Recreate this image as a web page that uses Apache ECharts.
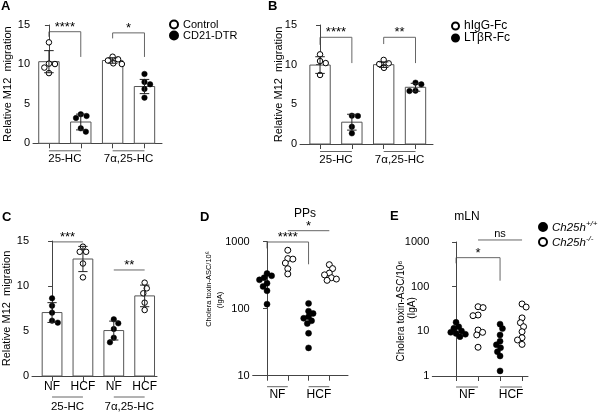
<!DOCTYPE html>
<html><head><meta charset="utf-8">
<script src="https://cdn.jsdelivr.net/npm/echarts@6/dist/echarts.min.js"></script>
<style>html,body{margin:0;padding:0;background:#fff}#c{width:600px;height:413px}</style>
</head><body><div id="c"></div>
<script>
// ---------------- data ----------------
const groupsAB = ['25-HC', '7α,25-HC'];
const catsC = ['NF', 'HCF', 'NF', 'HCF'];
const groupsDE = ['NF', 'HCF'];

// Panel A: Control (open) vs CD21-DTR (filled)
const aControl25 = [12.8, 10.05, 10.1, 9.6, 8.9];
const aDTR25 = [3.46, 3.68, 3.21, 1.9, 1.48];
const aControl7 = [10.98, 10.5, 10.65, 10.14, 10.05];
const aDTR7 = [8.79, 7.48, 7.77, 6.89, 5.79];
const aMeans = [10.35, 2.7, 10.5, 7.2];
const aSD = [1.4, 1.0, 0.35, 0.9];

// Panel B: hIgG-Fc (open) vs LTβR-Fc (filled)
const bIgG25 = [11.3, 10.46, 10.2, 8.7];
const bLTbR25 = [3.53, 3.57, 2.18, 1.34];
const bIgG7 = [10.6, 9.6, 10.08, 10.17];
const bLTbR7 = [7.52, 7.73, 6.72, 6.68];
const bMeans = [9.95, 2.75, 10.0, 7.15];
const bSD = [1.05, 1.0, 0.35, 0.5];

// Panel C: NF (filled) vs HCF (open)
const cNF25 = [8.63, 7.81, 7.04, 5.93, 6.15];
const cHCF25 = [13.8, 14.37, 13.8, 12.5, 10.96];
const cNF7 = [6.3, 5.85, 5.22, 3.74, 4.26];
const cHCF7 = [10.37, 9.74, 9.19, 8.15, 7.33];
const cMeans = [7.05, 13.0, 5.05, 8.9];
const cSD = [1.1, 1.4, 1.05, 1.2];

// Panel D (PPs): Ch25h+/+ (filled) vs Ch25h-/- (open)
const dNFwt = [335, 310, 290, 270, 240, 215, 185, 117];
const dNFko = [745, 560, 550, 480, 395, 330];
const dHCFwt = [120, 92, 85, 76, 72, 66, 60, 43, 26];
const dHCFko = [454, 397, 340, 320, 290, 277, 265];

// Panel E (mLN)
const eNFwt = [15.9, 12.7, 11.7, 10.2, 9.5, 9.0, 8.6, 7.6];
const eNFko = [35.6, 34, 23.2, 22.4, 10.7, 9.5, 8.3, 4.4];
const eHCFwt = [14.5, 11.5, 8.3, 6.0, 5.0, 4.3, 3.5, 2.8, 1.3];
const eHCFko = [41, 35, 20, 15.6, 12.7, 9.8, 7.2, 6.4, 5.1];

// significance annotations (data units): [x1, x2, yTop, yLeftEnd, yRightEnd, label]
const sigA = [[0, 1, 14.15, 13.5, 10.95, '****'], [2, 3, 14.0, 13.3, 10.95, '*']];
const sigB = [[0, 1, 13.45, 12.5, 10.2, '****'], [2, 3, 13.45, 12.6, 10.2, '**']];
const sigC = [[0, 1, 14.9, 14.9, 14.9, '***'], [2, 3, 11.78, 11.78, 11.78, '**']];
const sigD = [[0, 2, 990, 794, 460, '****'], [1, 3, 1460, 1460, 1460, '*']];
const sigE = [[0, 2, 446, 333, 136, '*'], [1, 3, 1110, 1110, 1110, 'ns']];

// ---------------- layout ----------------
const FONT = 'Liberation Sans, Arial, Helvetica, sans-serif';
const grids = [
  {left: 33, top: 25, width: 129, height: 118.3},
  {left: 300, top: 25, width: 133, height: 119},
  {left: 30, top: 241, width: 127, height: 135},
  {left: 252.7, top: 241.7, width: 95.3, height: 134},
  {left: 432.3, top: 242, width: 95.7, height: 134}
];
const xRanges = [[-0.5, 3.55], [-0.63, 3.55], [-0.65, 3.4], [-0.69, 3.9], [-1.08, 3.27]];
const AX = '#444';

const chart = echarts.init(document.getElementById('c'), null, {renderer: 'canvas'});

function xAxisCfg(i) {
  const cfg = {
    type: 'value', gridIndex: i, min: xRanges[i][0], max: xRanges[i][1],
    splitLine: {show: false},
    axisLine: {show: true, onZero: false, lineStyle: {color: AX, width: 1}},
    axisTick: {show: true, customValues: [0, 1, 2, 3], length: 5, lineStyle: {color: AX}},
    axisLabel: {show: false}
  };
  if (i === 2) {
    cfg.axisLabel = {show: true, customValues: [0, 1, 2, 3], margin: 5, fontSize: 12, color: '#000', fontFamily: FONT,
      formatter: v => catsC[Math.round(v)]};
  }
  if (i >= 3) {
    cfg.axisLabel = {show: true, customValues: [0.5, 2.5], margin: 13, fontSize: 12, color: '#000', fontFamily: FONT,
      formatter: v => groupsDE[v < 1.5 ? 0 : 1]};
  }
  return cfg;
}
function yAxisCfg(i) {
  const base = {
    gridIndex: i, splitLine: {show: false},
    axisLine: {show: true, lineStyle: {color: AX, width: 1}},
    axisTick: {show: true, length: 4, lineStyle: {color: AX}},
    axisLabel: {fontSize: 11, color: '#000', margin: 3, fontFamily: FONT},
    nameLocation: 'middle', nameRotate: 90, nameMoveOverlap: false,
    nameTextStyle: {fontSize: 11, color: '#000', fontFamily: FONT}
  };
  if (i <= 2) {
    return Object.assign(base, {type: 'value', min: 0, max: 15, interval: 5,
      name: 'Relative M12  migration', nameGap: i === 1 ? 16 : 20});
  }
  const logLabel = {fontSize: 11, color: '#000', margin: 3, fontFamily: FONT, formatter: v => String(Math.round(v))};
  if (i === 3) {
    return Object.assign(base, {type: 'log', logBase: 10, min: 10, max: 1000, axisLabel: logLabel});
  }
  return Object.assign(base, {type: 'log', logBase: 10, min: 1, max: 1000, axisLabel: logLabel});
}

function barRender(params, api) {
  const x = api.value(0), v = api.value(1);
  const p0 = api.coord([x, 0]);
  const p1 = api.coord([x, v]);
  const w = api.size([1, 0])[0] * 0.64;
  return {type: 'rect', shape: {x: p1[0] - w / 2, y: p1[1], width: w, height: p0[1] - p1[1]},
    style: {fill: '#fff', stroke: '#555', lineWidth: 1}};
}
function errRender(params, api) {
  const x = api.value(0), m = api.value(1), s = api.value(2);
  const t = api.coord([x, m + s]), b = api.coord([x, m - s]);
  const cw = api.size([1, 0])[0] * 0.3;
  const st = {stroke: '#222', lineWidth: 1};
  return {type: 'group', children: [
    {type: 'line', shape: {x1: t[0], y1: t[1], x2: b[0], y2: b[1]}, style: st},
    {type: 'line', shape: {x1: t[0] - cw / 2, y1: t[1], x2: t[0] + cw / 2, y2: t[1]}, style: st},
    {type: 'line', shape: {x1: b[0] - cw / 2, y1: b[1], x2: b[0] + cw / 2, y2: b[1]}, style: st}
  ]};
}

const panels = [
  {open: 'Control', filled: 'CD21-DTR', openGroups: [[0, aControl25], [2, aControl7]], filledGroups: [[1, aDTR25], [3, aDTR7]], means: aMeans, sd: aSD, size: 5.5, spread: 1.1},
  {open: 'hIgG-Fc', filled: 'LTβR-Fc', openGroups: [[0, bIgG25], [2, bIgG7]], filledGroups: [[1, bLTbR25], [3, bLTbR7]], means: bMeans, sd: bSD, size: 5.5, spread: 1.1},
  {open: 'C-HCF', filled: 'C-NF', openGroups: [[1, cHCF25], [3, cHCF7]], filledGroups: [[0, cNF25], [2, cNF7]], means: cMeans, sd: cSD, size: 5.5, spread: 1.1},
  {open: 'Ch25h-/-', filled: 'Ch25h+/+', openGroups: [[1, dNFko], [3, dHCFko]], filledGroups: [[0, dNFwt], [2, dHCFwt]], size: 6, spread: 0.85},
  {open: 'Ch25h-/-', filled: 'Ch25h+/+', openGroups: [[1, eNFko], [3, eHCFko]], filledGroups: [[0, eNFwt], [2, eHCFwt]], size: 6, spread: 0.85}
];

const series = [];
panels.forEach((p, i) => {
  if (p.means) {
    series.push({type: 'custom', id: 'bar' + i, xAxisIndex: i, yAxisIndex: i, renderItem: barRender, silent: true, z: 1,
      data: p.means.map((m, k) => [k, m]), encode: {x: 0, y: 1}});
    series.push({type: 'custom', id: 'err' + i, xAxisIndex: i, yAxisIndex: i, renderItem: errRender, silent: true, z: 4,
      data: p.means.map((m, k) => [k, m, p.sd[k]]), encode: {x: 0, y: 1}});
  }
  series.push({type: 'scatter', id: 'open' + i, name: p.open, xAxisIndex: i, yAxisIndex: i, symbol: 'circle', symbolSize: p.size, z: 3,
    itemStyle: {color: '#fff', borderColor: '#000', borderWidth: 1, opacity: 1}, data: []});
  series.push({type: 'scatter', id: 'filled' + i, name: p.filled, xAxisIndex: i, yAxisIndex: i, symbol: 'circle', symbolSize: p.size, z: 3,
    itemStyle: {color: '#000', borderColor: '#000', borderWidth: 0.5, opacity: 1}, data: []});
});

const titleStyle = {fontSize: 13, fontWeight: 'bold', color: '#000', fontFamily: FONT};
const subStyle = {fontSize: 12, fontWeight: 'normal', color: '#000', fontFamily: FONT};
const legendText = {fontSize: 11, color: '#000', fontFamily: FONT};

chart.setOption({
  animation: false,
  backgroundColor: '#fff',
  title: [
    {text: 'A', left: 1, top: 0, padding: 0, textStyle: titleStyle},
    {text: 'B', left: 268, top: 0, padding: 0, textStyle: titleStyle},
    {text: 'C', left: 2, top: 211, padding: 0, textStyle: titleStyle},
    {text: 'D', left: 200, top: 211, padding: 0, textStyle: titleStyle},
    {text: 'E', left: 390, top: 210, padding: 0, textStyle: titleStyle},
    {text: 'PPs', left: 305, top: 208, padding: 0, textAlign: 'center', textStyle: subStyle},
    {text: 'mLN', left: 467, top: 211, padding: 0, textAlign: 'center', textStyle: subStyle}
  ],
  legend: [
    {data: ['Control', 'CD21-DTR'], left: 169, top: 19, orient: 'vertical', itemWidth: 8, itemHeight: 8, itemGap: 0, padding: 0,
      textStyle: Object.assign({lineHeight: 10}, legendText), selectedMode: false},
    {data: ['hIgG-Fc', 'LTβR-Fc'], left: 451, top: 20, orient: 'vertical', itemWidth: 7, itemHeight: 7, itemGap: 0, padding: 0,
      textStyle: Object.assign({lineHeight: 10}, legendText, {fontSize: 12}), selectedMode: false},
    {data: ['Ch25h+/+', 'Ch25h-/-'], left: 538, top: 220, orient: 'vertical', itemWidth: 8, itemHeight: 8, itemGap: 1, padding: 0,
      selectedMode: false,
      formatter: n => n === 'Ch25h+/+' ? '{i|Ch25h}{s|+/+}' : '{i|Ch25h}{s|-/-}',
      textStyle: {color: '#000', fontFamily: FONT, fontSize: 11, rich: {
        i: {fontStyle: 'italic', fontSize: 11.5, fontFamily: FONT, lineHeight: 14, verticalAlign: 'bottom'},
        s: {fontStyle: 'italic', fontSize: 8, fontFamily: FONT, lineHeight: 14, verticalAlign: 'top'}}}}
  ],
  grid: grids,
  xAxis: grids.map((g, i) => xAxisCfg(i)),
  yAxis: grids.map((g, i) => yAxisCfg(i)),
  series: series
});

// --------- second pass: beeswarm jitter + annotations ---------
function swarm(gi, xc, vals, diam) {
  const a = chart.convertToPixel({gridIndex: gi}, [xc, vals[0]]);
  const b = chart.convertToPixel({gridIndex: gi}, [xc + 1, vals[0]]);
  const ppu = b[0] - a[0];
  const ys = vals.map(v => chart.convertToPixel({gridIndex: gi}, [xc, v])[1]);
  const order = vals.map((v, k) => k).sort((p, q) => ys[p] - ys[q]);
  const placed = [];
  const out = new Array(vals.length);
  let flip = 1;
  order.forEach(k => {
    const y = ys[k];
    const cands = [0];
    placed.forEach(q => {
      const dy = y - q.y;
      if (Math.abs(dy) < diam) {
        const dx = Math.sqrt(diam * diam - dy * dy);
        cands.push(q.x + dx, q.x - dx);
      }
    });
    const ok = cands.filter(c => placed.every(q => (c - q.x) ** 2 + (y - q.y) ** 2 >= diam * diam - 0.01));
    ok.sort((p, q) => (Math.abs(p) - Math.abs(q)) || (q - p) * flip);
    const c = ok[0];
    if (Math.abs(c) > 0.01) flip = -flip;
    placed.push({x: c, y: y});
    out[k] = [xc + c / ppu, vals[k]];
  });
  return out;
}

const upd = [];
panels.forEach((p, i) => {
  const d = p.size * p.spread;
  let od = [], fd = [];
  p.openGroups.forEach(([xc, vals]) => { od = od.concat(swarm(i, xc, vals, d)); });
  p.filledGroups.forEach(([xc, vals]) => { fd = fd.concat(swarm(i, xc, vals, d)); });
  upd.push({id: 'open' + i, data: od});
  upd.push({id: 'filled' + i, data: fd});
});

const graphics = [];
const LINE = '#666';
function px(gi, x, y) { return chart.convertToPixel({gridIndex: gi}, [x, y]); }
function addSig(gi, list) {
  list.forEach(([x1, x2, yt, yl, yr, lab]) => {
    const pl = px(gi, x1, yl), pt1 = px(gi, x1, yt), pt2 = px(gi, x2, yt), pr = px(gi, x2, yr);
    graphics.push({type: 'polyline', silent: true, shape: {points: [pl, pt1, pt2, pr]},
      style: {stroke: LINE, lineWidth: 1, fill: null}});
    graphics.push({type: 'text', silent: true, x: (pt1[0] + pt2[0]) / 2, y: pt1[1] + (lab === 'ns' ? -1 : 2),
      style: {text: lab, fontSize: lab === 'ns' ? 11 : 13, fontFamily: FONT, fill: '#000',
        textAlign: 'center', textVerticalAlign: 'bottom'}});
  });
}
addSig(0, sigA); addSig(1, sigB); addSig(2, sigC); addSig(3, sigD); addSig(4, sigE);

function groupLabel(gi, x1, x2, label, lineOff, textOff, yVal) {
  const a = px(gi, x1, yVal), b = px(gi, x2, yVal);
  graphics.push({type: 'line', silent: true, shape: {x1: a[0], y1: a[1] + lineOff, x2: b[0], y2: b[1] + lineOff},
    style: {stroke: LINE, lineWidth: 1}});
  if (label) {
    graphics.push({type: 'text', silent: true, x: (a[0] + b[0]) / 2, y: a[1] + textOff,
      style: {text: label, fontSize: 11.5, fontFamily: FONT, fill: '#000', textAlign: 'center', textVerticalAlign: 'middle'}});
  }
}
groupLabel(0, 0, 1, groupsAB[0], 7.5, 15.5, 0);
groupLabel(0, 2, 3, groupsAB[1], 7.5, 15.5, 0);
groupLabel(1, 0, 1, groupsAB[0], 7.5, 16, 0);
groupLabel(1, 2, 3, groupsAB[1], 7.5, 16, 0);
groupLabel(2, 0, 1, groupsAB[0], 21, 31, 0);
groupLabel(2, 2, 3, groupsAB[1], 21, 31, 0);
groupLabel(3, 0, 1, null, 11, 0, 10);
groupLabel(3, 2, 3, null, 11, 0, 10);
groupLabel(4, 0, 1, null, 11, 0, 1);
groupLabel(4, 2, 3, null, 11, 0, 1);

// y-axis titles of the log panels (two lines, rotated)
function yTitle(x, y, text, size) {
  graphics.push({type: 'text', silent: true, x: x, y: y, rotation: Math.PI / 2,
    style: {text: text, fontSize: size, fontFamily: FONT, fill: '#000', textAlign: 'center', textVerticalAlign: 'middle'}});
}
yTitle(209, 289, 'Cholera toxin-ASC/10⁶', 7.5);
yTitle(220, 300, '(IgA)', 7.5);
yTitle(401, 311, 'Cholera toxin-ASC/10⁶', 10);
yTitle(412, 308, '(IgA)', 10);

chart.setOption({series: upd, graphic: graphics});
</script></body></html>
